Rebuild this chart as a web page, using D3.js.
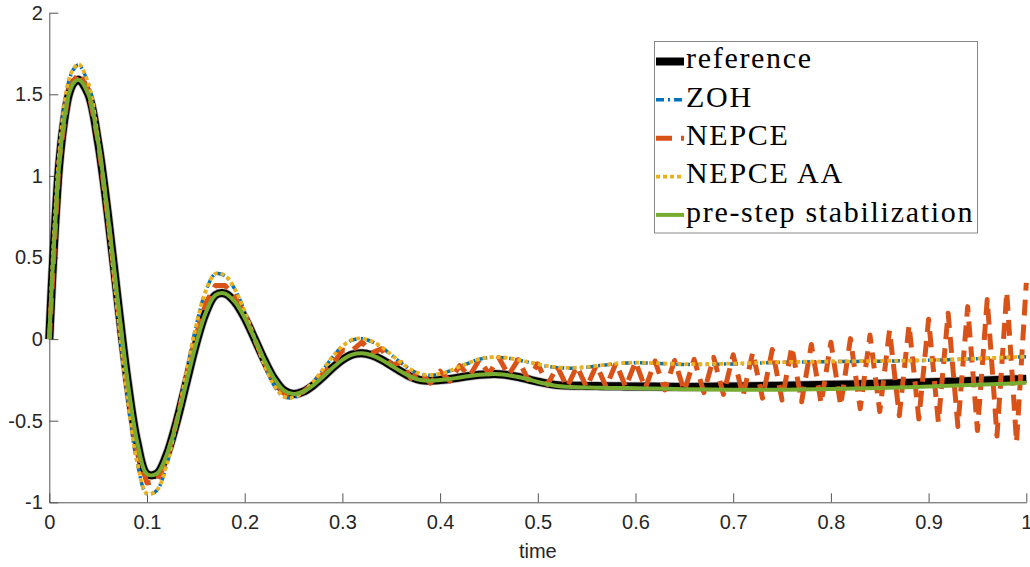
<!DOCTYPE html>
<html>
<head>
<meta charset="utf-8">
<script src="https://cdn.jsdelivr.net/npm/d3@7"></script>
<style>
  body { margin: 0; background: #fff; }
  svg { display: block; }
</style>
</head>
<body>
<svg width="1030" height="567"></svg>
<script>
// time grid shared by the smooth series (denser at the very start)
var tSmooth = [0, 0.003, 0.006, 0.01, 0.015, 0.02, 0.025,
  0.03, 0.04, 0.05, 0.06, 0.07, 0.08, 0.09, 0.10, 0.11, 0.12,
  0.13, 0.14, 0.15, 0.16, 0.17, 0.18, 0.19, 0.20, 0.21, 0.22,
  0.23, 0.24, 0.25, 0.26, 0.27, 0.28, 0.29, 0.30, 0.31, 0.32,
  0.33, 0.34, 0.35, 0.36, 0.37, 0.38, 0.39, 0.40, 0.41, 0.42,
  0.43, 0.44, 0.45, 0.46, 0.47, 0.48, 0.49, 0.50, 0.51, 0.52,
  0.53, 0.54, 0.55, 0.56, 0.57, 0.58, 0.59, 0.60,
  0.65, 0.70, 0.75, 0.80, 0.85, 0.90, 0.95, 1.0];

var reference = [0, 0.38, 0.70, 1.06, 1.33, 1.50, 1.57,
  1.589, 1.500, 1.205, 0.760, 0.242, -0.252, -0.631, -0.827, -0.825, -0.711,
  -0.514, -0.274, -0.034, 0.159, 0.269, 0.279, 0.227, 0.130, 0.004, -0.127,
  -0.240, -0.314, -0.337, -0.322, -0.284, -0.232, -0.176, -0.127, -0.095, -0.087,
  -0.099, -0.126, -0.162, -0.199, -0.231, -0.251, -0.255, -0.251, -0.245, -0.235,
  -0.226, -0.219, -0.215, -0.215, -0.221, -0.232, -0.246, -0.261, -0.273, -0.282,
  -0.285, -0.286, -0.287, -0.288, -0.289, -0.289, -0.290, -0.290,
  -0.293, -0.290, -0.286, -0.280, -0.273, -0.265, -0.255, -0.245];

var zoh = [0, 0.42, 0.76, 1.12, 1.41, 1.58, 1.655,
  1.680, 1.560, 1.221, 0.724, 0.162, -0.363, -0.758, -0.949, -0.927, -0.771,
  -0.517, -0.216, 0.073, 0.291, 0.399, 0.387, 0.304, 0.168, 0.005, -0.156,
  -0.283, -0.353, -0.358, -0.324, -0.264, -0.188, -0.110, -0.045, -0.006, 0.002,
  -0.015, -0.050, -0.097, -0.146, -0.188, -0.215, -0.222, -0.213, -0.195, -0.170,
  -0.145, -0.124, -0.113, -0.112, -0.117, -0.128, -0.141, -0.155, -0.167, -0.175,
  -0.178, -0.176, -0.172, -0.165, -0.158, -0.151, -0.147, -0.145,
  -0.155, -0.152, -0.142, -0.138, -0.135, -0.130, -0.120, -0.108];

var nepceAA = [0, 0.43, 0.77, 1.13, 1.42, 1.59, 1.66,
  1.685, 1.565, 1.225, 0.726, 0.162, -0.362, -0.756, -0.947, -0.926, -0.770,
  -0.516, -0.214, 0.075, 0.293, 0.401, 0.389, 0.305, 0.169, 0.006, -0.155,
  -0.282, -0.352, -0.357, -0.323, -0.263, -0.186, -0.108, -0.043, -0.004, 0.004,
  -0.013, -0.048, -0.095, -0.144, -0.186, -0.213, -0.220, -0.212, -0.194, -0.169,
  -0.144, -0.123, -0.112, -0.111, -0.116, -0.127, -0.140, -0.153, -0.165, -0.173,
  -0.176, -0.175, -0.171, -0.164, -0.157, -0.150, -0.146, -0.144,
  -0.153, -0.150, -0.141, -0.137, -0.134, -0.129, -0.119, -0.107];

var preStep = [0, 0.38, 0.70, 1.06, 1.33, 1.50, 1.57,
  1.589, 1.500, 1.205, 0.760, 0.242, -0.252, -0.631, -0.827, -0.825, -0.711,
  -0.514, -0.274, -0.034, 0.159, 0.269, 0.279, 0.227, 0.130, 0.004, -0.127,
  -0.240, -0.314, -0.337, -0.322, -0.284, -0.232, -0.176, -0.127, -0.095, -0.087,
  -0.099, -0.126, -0.162, -0.199, -0.231, -0.251, -0.255, -0.251, -0.245, -0.235,
  -0.226, -0.219, -0.215, -0.215, -0.221, -0.232, -0.246, -0.263, -0.277, -0.287,
  -0.292, -0.295, -0.297, -0.298, -0.299, -0.300, -0.300, -0.301,
  -0.307, -0.311, -0.310, -0.306, -0.300, -0.291, -0.280, -0.268];

// NEPCE is sampled every 0.01 and zigzags between steps
var tNepce = d3.range(101).map(i => i / 100);
var nepce = [0, 1.087, 1.536, 1.630, 1.527, 1.212, 0.744, 0.206, -0.302, -0.688,
  -0.882, -0.871, -0.738, -0.515, -0.248, 0.014, 0.218, 0.328, 0.328, 0.262,
  0.147, 0.004, -0.140, -0.259, -0.332, -0.346, -0.323, -0.275, -0.212, -0.155,
  -0.068, -0.070, -0.018, -0.084, -0.060, -0.159, -0.143, -0.240, -0.203, -0.270,
  -0.197, -0.257, -0.163, -0.228, -0.127, -0.212, -0.113, -0.221, -0.126, -0.248,
  -0.152, -0.278, -0.169, -0.294, -0.167, -0.295, -0.159, -0.293, -0.147, -0.294,
  -0.138, -0.302, -0.134, -0.311, -0.131, -0.319, -0.124, -0.328, -0.112, -0.339,
  -0.096, -0.350, -0.081, -0.362, -0.064, -0.374, -0.047, -0.384, -0.033, -0.394,
  -0.019, -0.408, 0.003, -0.426, 0.025, -0.444, 0.053, -0.469, 0.087, -0.489,
  0.122, -0.510, 0.159, -0.535, 0.199, -0.560, 0.243, -0.594, 0.289, -0.633,
  0.345];

var xTicks = [0, 0.1, 0.2, 0.3, 0.4, 0.5, 0.6, 0.7, 0.8, 0.9, 1];
var xTickLabels = ["0", "0.1", "0.2", "0.3", "0.4", "0.5", "0.6", "0.7", "0.8", "0.9", "1"];
var yTicks = [-1, -0.5, 0, 0.5, 1, 1.5, 2];
var yTickLabels = ["-1", "-0.5", "0", "0.5", "1", "1.5", "2"];

var legendNames = ["reference", "ZOH", "NEPCE", "NEPCE AA", "pre-step stabilization"];

var svg = d3.select("svg");
var x = d3.scaleLinear().domain([0, 1]).range([49.3, 1026.3]);
var y = d3.scaleLinear().domain([-1, 2]).range([502.3, 12.7]);

// line styles, one per series (same order as the legend)
var styles = [
  {color: "#000000", width: 8, dash: null},
  {color: "#0072BD", width: 3.5, dash: "8,4,2,4"},
  {color: "#D95319", width: 5, dash: "16,9"},
  {color: "#EDB120", width: 3.8, dash: "4,3"},
  {color: "#77AC30", width: 4, dash: null}
];

var series = [
  {t: tSmooth, v: reference, curve: d3.curveCatmullRom},
  {t: tSmooth, v: zoh, curve: d3.curveCatmullRom},
  {t: tNepce, v: nepce, curve: d3.curveLinear},
  {t: tSmooth, v: nepceAA, curve: d3.curveCatmullRom},
  {t: tSmooth, v: preStep, curve: d3.curveCatmullRom}
];

// axes (MATLAB style: ticks pointing inward, no box)
var axisColor = "#262626";
var gx = svg.append("g").attr("transform", "translate(0," + y(-1) + ")")
  .call(d3.axisBottom(x).tickValues(xTicks).tickFormat((d, i) => xTickLabels[i])
    .tickSizeInner(-9).tickSizeOuter(0).tickPadding(13));
var gy = svg.append("g").attr("transform", "translate(" + x(0) + ",0)")
  .call(d3.axisLeft(y).tickValues(yTicks).tickFormat((d, i) => yTickLabels[i])
    .tickSizeInner(-9).tickSizeOuter(0).tickPadding(6.5));
[gx, gy].forEach(function(g) {
  g.select(".domain").attr("stroke", "#555").attr("stroke-width", 1);
  g.selectAll(".tick line").attr("stroke", "#555").attr("stroke-width", 1);
  g.selectAll(".tick text").attr("fill", axisColor)
    .style("font-family", "'Liberation Sans', Arial, Helvetica, sans-serif")
    .style("font-size", "20px");
});

svg.append("text")
  .attr("x", (x(0) + x(1)) / 2).attr("y", 558)
  .attr("text-anchor", "middle").attr("fill", axisColor)
  .style("font-family", "'Liberation Sans', Arial, Helvetica, sans-serif")
  .style("font-size", "20px")
  .text("time");

// data lines
var plot = svg.append("g");
series.forEach(function(s, k) {
  var line = d3.line().curve(s.curve)
    .x((d, i) => x(s.t[i]))
    .y(d => y(d));
  if (k == 0) { // greyish halo around the thick reference line
    plot.append("path").attr("d", line(s.v)).attr("fill", "none")
      .attr("stroke", "#666").attr("stroke-width", 9.5).attr("stroke-opacity", 0.45)
      .attr("stroke-linejoin", "round");
  }
  plot.append("path")
    .attr("d", line(s.v))
    .attr("fill", "none")
    .attr("stroke", styles[k].color)
    .attr("stroke-width", styles[k].width)
    .attr("stroke-dasharray", styles[k].dash)
    .attr("stroke-linejoin", "round");
});

// legend
var legend = svg.append("g");
legend.append("rect")
  .attr("x", 654.5).attr("y", 41.5).attr("width", 323).attr("height", 191.5)
  .attr("fill", "#fff").attr("stroke", "#888").attr("stroke-width", 1);
legendNames.forEach(function(name, i) {
  var base = 68.3 + i * 38.35;
  legend.append("line")
    .attr("x1", 656).attr("x2", 684).attr("y1", base - 6.8).attr("y2", base - 6.8)
    .attr("stroke", styles[i].color)
    .attr("stroke-width", styles[i].width)
    .attr("stroke-dasharray", styles[i].dash);
  legend.append("text")
    .attr("x", 686).attr("y", base)
    .attr("fill", "#000")
    .style("font-family", "'Liberation Serif', 'Times New Roman', serif")
    .style("font-size", "30px")
    .style("letter-spacing", "1.7px")
    .text(name);
});
</script>
</body>
</html>
